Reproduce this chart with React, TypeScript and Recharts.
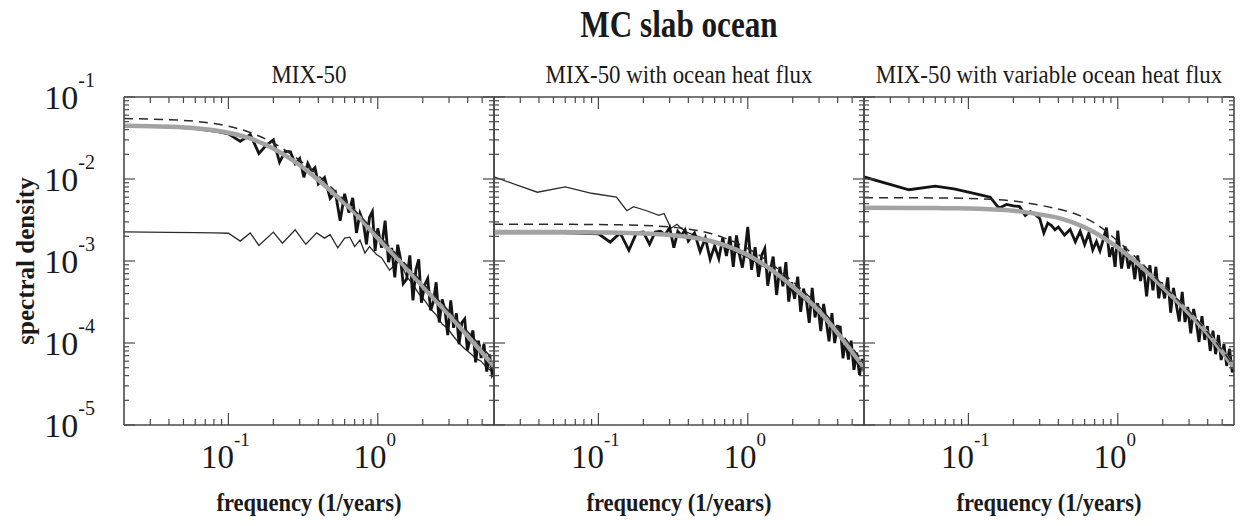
import { Line, LineChart, XAxis, YAxis } from "recharts";

// frequency (1/years) of the raw spectra
const FREQ = [
  0.02, 0.04, 0.06, 0.08, 0.1, 0.12, 0.14, 0.16, 0.18, 0.2,
  0.22, 0.24, 0.26, 0.28, 0.3, 0.32, 0.34, 0.36, 0.38, 0.4,
  0.44, 0.48, 0.52, 0.56, 0.6, 0.64, 0.68, 0.72, 0.76, 0.8,
  0.84, 0.88, 0.92, 0.96, 1.0, 1.06, 1.12, 1.18, 1.24, 1.3,
  1.36, 1.42, 1.48, 1.56, 1.64, 1.72, 1.8, 1.88, 1.96, 2.06,
  2.16, 2.26, 2.36, 2.46, 2.58, 2.7, 2.82, 2.94, 3.08, 3.22,
  3.36, 3.5, 3.66, 3.82, 3.98, 4.16, 4.34, 4.52, 4.72, 4.92,
  5.14, 5.36, 5.6, 5.84, 6.0,
];

// frequency of the smooth (fitted / theoretical) curves
const FIT_FREQ = [0.02, 0.04, 0.06, 0.08, 0.1, 0.14, 0.2, 0.3, 0.4, 0.5, 0.7, 1.0, 1.4, 2.0, 3.0, 4.0, 5.0, 6.0];

// --- MIX-50 ---
const MIX50_SPEC = [
  0.0446, 0.0434, 0.0412, 0.0385, 0.0356, 0.0288, 0.0349, 0.0205, 0.0259, 0.030,
  0.016, 0.0218, 0.0214, 0.0154, 0.0178, 0.0105, 0.0155, 0.0125, 0.0137, 0.0087,
  0.0104, 0.0058, 0.0069, 0.0031, 0.0066, 0.0039, 0.0059, 0.0022, 0.0038, 0.003,
  0.0016, 0.0034, 0.004, 0.00133, 0.0025, 0.00145, 0.0031, 0.00097, 0.00144, 0.00063,
  0.00158, 0.00106, 0.00053, 0.0006, 0.00117, 0.00033, 0.00078, 0.00105, 0.00031, 0.00051,
  0.00061, 0.00025, 0.00032, 0.00055, 0.000178, 0.00034, 0.000248, 0.000125, 0.00033, 0.000153,
  0.00023, 0.0000966, 0.000178, 0.000197, 0.0000813, 0.000114, 0.000142, 0.000058, 0.000107, 0.0000656,
  0.0000975, 0.0000448, 0.0000727, 0.0000407, 0.000044,
];
const MIX50_FIT = [0.0446, 0.0434, 0.0416, 0.0393, 0.0367, 0.0312, 0.0236, 0.0148, 0.0097, 0.0068, 0.0039, 0.0019, 0.001, 0.00049, 0.00022, 0.000122, 0.000076, 0.000052];
const MIX50_DASH = [0.0545, 0.0529, 0.0505, 0.0474, 0.044, 0.0369, 0.0275, 0.0169, 0.011, 0.0076, 0.00415, 0.00212, 0.0011, 0.00054, 0.000243, 0.000137, 0.000088, 0.000061];
const MIX50_THIN_FREQ = [
  0.02, 0.04, 0.06, 0.08, 0.1, 0.12, 0.14, 0.16, 0.2, 0.23, 0.28, 0.33, 0.39, 0.44, 0.48,
  0.54, 0.6, 0.65, 0.7, 0.76, 0.82, 0.88, 0.98, 1.06, 1.2, 1.3, 1.4, 1.56, 1.72, 1.88,
  2.06, 2.26, 2.46, 2.7, 2.94, 3.22, 3.5, 3.82, 4.16, 4.52, 4.92, 5.36, 5.84, 6.0,
];
const MIX50_THIN = [
  0.00226, 0.00224, 0.00222, 0.0022, 0.00218, 0.00175, 0.0022, 0.00155, 0.00225, 0.00165, 0.0024, 0.0016, 0.0022, 0.0019, 0.0021,
  0.00145, 0.0019, 0.00195, 0.0015, 0.0018, 0.00125, 0.0015, 0.0012, 0.0011, 0.00077, 0.0009, 0.001, 0.00065, 0.00052, 0.0004,
  0.00033, 0.00026, 0.00022, 0.00017, 0.00015, 0.00012, 0.0001, 0.000085, 0.000075, 0.000065, 0.00006, 0.00005, 0.000045, 0.000042,
];

// --- MIX-50 with ocean heat flux ---
const FLUX_SPEC = [
  0.0022, 0.0022, 0.0022, 0.00218, 0.00215, 0.0017, 0.0022, 0.00135, 0.0022, 0.00225,
  0.0016, 0.00225, 0.0023, 0.0021, 0.00255, 0.00145, 0.0023, 0.00205, 0.0024, 0.00175,
  0.0022, 0.0013, 0.0019, 0.00105, 0.00153, 0.00107, 0.00191, 0.00115, 0.002, 0.00085,
  0.00205, 0.00119, 0.00083, 0.00135, 0.0026, 0.00078, 0.00147, 0.00064, 0.00118, 0.00142,
  0.0005, 0.0008, 0.00113, 0.000385, 0.00085, 0.00049, 0.00097, 0.00032, 0.00055, 0.000345,
  0.000645, 0.00024, 0.00046, 0.000347, 0.000176, 0.00047, 0.000205, 0.000306, 0.00014, 0.0003,
  0.00018, 0.000105, 0.000232, 0.0001, 0.00016, 0.000156, 0.000065, 0.00011, 0.000063, 0.000107,
  0.000047, 0.000076, 0.000041, 0.000064, 0.000045,
];
const FLUX_FIT = [0.00225, 0.00225, 0.00225, 0.00224, 0.00223, 0.00221, 0.00217, 0.00208, 0.00197, 0.00184, 0.00156, 0.00118, 0.00081, 0.000485, 0.000245, 0.000132, 0.000078, 0.00005];
const FLUX_DASH = [0.0028, 0.0028, 0.0028, 0.00279, 0.00278, 0.00276, 0.00272, 0.0026, 0.00245, 0.00228, 0.0019, 0.00142, 0.00096, 0.00056, 0.00028, 0.00015, 0.000088, 0.000056];
const FLUX_THIN_FREQ = [0.02, 0.039, 0.06, 0.09, 0.132, 0.155, 0.172, 0.21, 0.254, 0.275, 0.306, 0.336, 0.36, 0.4, 0.5, 0.7, 1.0, 1.4, 2.0, 3.0, 4.0, 5.0, 6.0];
const FLUX_THIN = [0.0106, 0.0069, 0.008, 0.0067, 0.006, 0.0041, 0.0046, 0.0041, 0.0036, 0.0038, 0.0025, 0.0028, 0.0025, 0.0022, 0.0019, 0.0015, 0.0011, 0.00078, 0.00046, 0.00023, 0.00013, 0.000075, 0.000048];

// --- MIX-50 with variable ocean heat flux ---
const VARFLUX_SPEC = [
  0.0106, 0.0074, 0.0082, 0.0076, 0.0069, 0.0064, 0.006, 0.0044, 0.0049, 0.0047,
  0.0046, 0.0036, 0.004, 0.0037, 0.0033, 0.0022, 0.0029, 0.0027, 0.0024, 0.0026,
  0.00207, 0.00242, 0.00172, 0.0023, 0.00159, 0.00218, 0.00137, 0.00173, 0.00133, 0.00183,
  0.00255, 0.00112, 0.00147, 0.00085, 0.00234, 0.00081, 0.0015, 0.00081, 0.00113, 0.0006,
  0.00117, 0.00057, 0.0009, 0.00037, 0.00089, 0.00044, 0.00085, 0.00035, 0.00055, 0.00035,
  0.00063, 0.000234, 0.00047, 0.0003, 0.000183, 0.00042, 0.00018, 0.000275, 0.000131, 0.00026,
  0.000176, 0.000103, 0.000212, 0.000109, 0.000161, 0.00008, 0.000141, 0.000073, 0.000125, 0.000062,
  0.000097, 0.0000525, 0.000085, 0.000044, 0.000051,
];
const VARFLUX_FIT = [0.00445, 0.00444, 0.00442, 0.00439, 0.00436, 0.00427, 0.00411, 0.0037, 0.00336, 0.00295, 0.00223, 0.00146, 0.00089, 0.00048, 0.00023, 0.00013, 0.000078, 0.00005];
const VARFLUX_DASH = [0.0059, 0.0059, 0.00588, 0.00585, 0.0058, 0.00565, 0.0054, 0.0048, 0.0043, 0.00385, 0.0029, 0.00175, 0.001, 0.00051, 0.000245, 0.000135, 0.000082, 0.000052];

const X_TICKS = [0.03, 0.04, 0.05, 0.06, 0.07, 0.08, 0.09, 0.1, 0.2, 0.3, 0.4, 0.5, 0.6, 0.7, 0.8, 0.9, 1, 2, 3, 4, 5];
const Y_TICKS = [
  1e-5, 2e-5, 3e-5, 4e-5, 5e-5, 6e-5, 7e-5, 8e-5, 9e-5,
  1e-4, 2e-4, 3e-4, 4e-4, 5e-4, 6e-4, 7e-4, 8e-4, 9e-4,
  1e-3, 2e-3, 3e-3, 4e-3, 5e-3, 6e-3, 7e-3, 8e-3, 9e-3,
  1e-2, 2e-2, 3e-2, 4e-2, 5e-2, 6e-2, 7e-2, 8e-2, 9e-2,
  1e-1,
];
const X_DOMAIN = [0.02, 6];
const Y_DOMAIN = [1e-5, 1e-1];

const SERIF = '"Liberation Serif", "Times New Roman", serif';
const FRAME = "#4a4a4a";
const TOP = 97;
const W = 370;
const H = 328;

const pts = (xs: number[], ys: number[]) => xs.map((f, i) => ({ f, v: ys[i] }));

const PANELS = [
  { left: 124, title: "MIX-50", spec: MIX50_SPEC, fit: MIX50_FIT, dash: MIX50_DASH, thinF: MIX50_THIN_FREQ, thin: MIX50_THIN, yLabels: true },
  { left: 494, title: "MIX-50 with ocean heat flux", spec: FLUX_SPEC, fit: FLUX_FIT, dash: FLUX_DASH, thinF: FLUX_THIN_FREQ, thin: FLUX_THIN, yLabels: false },
  { left: 864, title: "MIX-50 with variable ocean heat flux", spec: VARFLUX_SPEC, fit: VARFLUX_FIT, dash: VARFLUX_DASH, thinF: null, thin: null, yLabels: false },
];

function isDecade(v: number) {
  const l = Math.log10(v);
  return Math.abs(l - Math.round(l)) < 1e-6;
}

function BottomTick(props: any) {
  const { x, y, payload } = props;
  const major = isDecade(payload.value);
  return (
    <g>
      <line x1={x} x2={x} y1={y} y2={y - (major ? 12 : 6)} stroke={FRAME} strokeWidth={1.2} />
      {major && (
        <text x={x - 3} y={y + 43} textAnchor="middle" fontFamily={SERIF} fontSize={33} fill="#1a1a1a">
          10<tspan dy={-22} fontSize={19}>{Math.round(Math.log10(payload.value))}</tspan>
        </text>
      )}
    </g>
  );
}

function TopTick(props: any) {
  const { x, y, payload } = props;
  const major = isDecade(payload.value);
  return <line x1={x} x2={x} y1={y} y2={y + (major ? 12 : 6)} stroke={FRAME} strokeWidth={1.2} />;
}

function LeftTick(props: any) {
  const { x, y, payload, showLabel } = props;
  const major = isDecade(payload.value);
  return (
    <g>
      <line x1={x} x2={x + (major ? 11 : 5)} y1={y} y2={y} stroke={FRAME} strokeWidth={1.2} />
      {major && showLabel && (
        <text x={x - 29} y={y + 12} textAnchor="end" fontFamily={SERIF} fontSize={34} fill="#1a1a1a">
          10<tspan dy={-22} fontSize={20}>{Math.round(Math.log10(payload.value))}</tspan>
        </text>
      )}
    </g>
  );
}

function RightTick(props: any) {
  const { x, y, payload } = props;
  const major = isDecade(payload.value);
  return <line x1={x} x2={x - (major ? 11 : 5)} y1={y} y2={y} stroke={FRAME} strokeWidth={1.2} />;
}

function Panel({ p }: { p: (typeof PANELS)[number] }) {
  const ML = p.yLabels ? 110 : 4;
  const MR = 4;
  const MT = 30;
  const MB = 56;
  const axisLine = { stroke: FRAME, strokeWidth: 1.6 };
  const common = {
    type: "number" as const,
    scale: "log" as const,
    allowDataOverflow: true,
    interval: 0,
    tickSize: 0,
    tickMargin: 0,
    tickLine: false,
    axisLine,
  };
  // axes are 1px thick, so the chart is 2px larger than the plot both ways
  return (
    <div style={{ position: "absolute", left: p.left - ML - 1, top: TOP - MT - 1 }}>
      <LineChart width={W + ML + MR + 2} height={H + MT + MB + 2} margin={{ top: MT, right: MR, bottom: MB, left: ML }}>
        <XAxis xAxisId="b" dataKey="f" domain={X_DOMAIN} ticks={X_TICKS} height={1} tick={BottomTick} {...common} />
        <XAxis xAxisId="t" orientation="top" dataKey="f" domain={X_DOMAIN} ticks={X_TICKS} height={1} tick={TopTick} {...common} />
        <YAxis yAxisId="l" dataKey="v" domain={Y_DOMAIN} ticks={Y_TICKS} width={1} tick={(t: any) => <LeftTick {...t} showLabel={p.yLabels} />} {...common} />
        <YAxis yAxisId="r" orientation="right" dataKey="v" domain={Y_DOMAIN} ticks={Y_TICKS} width={1} tick={RightTick} {...common} />
        {p.thin && p.thinF && (
          <Line xAxisId="b" yAxisId="l" data={pts(p.thinF, p.thin)} dataKey="v" stroke="#2b2b2b" strokeWidth={1.3} dot={false} isAnimationActive={false} />
        )}
        <Line xAxisId="b" yAxisId="l" data={pts(FREQ, p.spec)} dataKey="v" stroke="#141414" strokeWidth={2.8} strokeLinejoin="miter" dot={false} isAnimationActive={false} />
        <Line xAxisId="b" yAxisId="l" data={pts(FIT_FREQ, p.fit)} dataKey="v" type="monotone" stroke="#a3a3a3" strokeWidth={4.5} dot={false} isAnimationActive={false} />
        <Line xAxisId="b" yAxisId="l" data={pts(FIT_FREQ, p.dash)} dataKey="v" type="monotone" stroke="#2b2b2b" strokeWidth={1.5} strokeDasharray="9 6" dot={false} isAnimationActive={false} />
      </LineChart>
    </div>
  );
}

const centered = (x: number, y: number, extra: React.CSSProperties): React.CSSProperties => ({
  position: "absolute",
  left: x,
  top: y,
  whiteSpace: "nowrap",
  fontFamily: SERIF,
  color: "#1a1a1a",
  lineHeight: 1,
  ...extra,
});

export default function App() {
  const centers = PANELS.map((p) => p.left + W / 2);
  return (
    <div style={{ position: "absolute", left: 0, top: 0, width: 1246, height: 526, background: "#fff", overflow: "hidden" }}>
      {PANELS.map((p) => (
        <Panel key={p.title} p={p} />
      ))}
      <div style={centered(679, 24, { fontSize: 38, fontWeight: "bold", transform: "translate(-50%,-50%) scaleX(0.82)" })}>MC slab ocean</div>
      {PANELS.map((p, i) => (
        <div key={p.title} style={centered(centers[i], 75, { fontSize: 26, transform: "translate(-50%,-50%) scaleX(0.88)" })}>
          {p.title}
        </div>
      ))}
      {centers.map((c) => (
        <div key={c} style={centered(c, 502, { fontSize: 25, fontWeight: "bold", transform: "translate(-50%,-50%) scaleX(0.9)" })}>
          frequency (1/years)
        </div>
      ))}
      <div style={centered(25, 261, { fontSize: 25, fontWeight: "bold", transform: "translate(-50%,-50%) rotate(-90deg)" })}>
        spectral density
      </div>
    </div>
  );
}
